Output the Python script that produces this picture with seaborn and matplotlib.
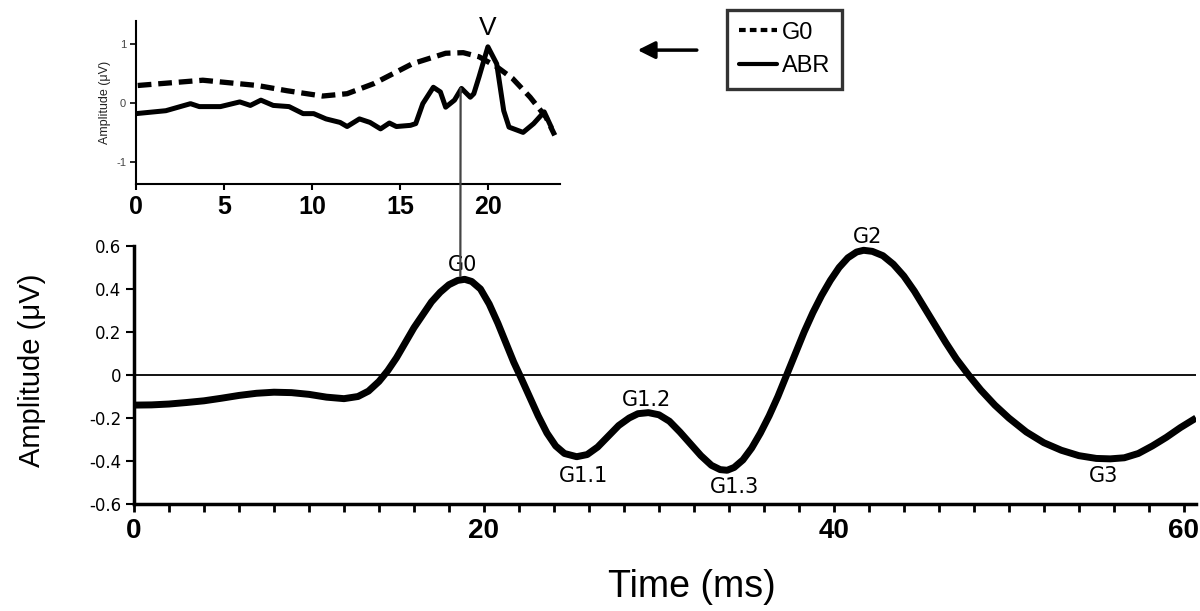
import numpy as np
import pandas as pd
import matplotlib
matplotlib.use("Agg")
import matplotlib.pyplot as plt
import seaborn as sns
from matplotlib.lines import Line2D
from matplotlib.patches import ConnectionPatch, FancyArrowPatch

# main waveform (time in ms, amplitude in uV)
t_main = [0, 1, 2, 3, 4, 5, 6, 7, 8, 9,
          10, 11, 12, 12.8, 13.4, 14, 14.5, 15, 15.5, 16,
          16.5, 17, 17.5, 18, 18.5, 18.9, 19.3, 19.8, 20.3, 20.8,
          21.3, 21.7, 22.1, 22.6, 23.1, 23.6, 24.1, 24.6, 25.3, 25.9,
          26.5, 27.1, 27.7, 28.3, 28.8, 29.4, 30, 30.6, 31.2, 31.8,
          32.4, 33, 33.5, 33.9, 34.3, 34.8, 35.3, 35.8, 36.3, 36.8,
          37.3, 37.8, 38.3, 38.8, 39.3, 39.8, 40.3, 40.8, 41.3, 41.7,
          42.2, 42.8, 43.4, 44, 44.6, 45.2, 45.8, 46.4, 47, 47.7,
          48.4, 49.2, 50, 51, 52, 53, 54, 55, 55.8, 56.6,
          57.4, 58.2, 59, 59.8, 60.7]
a_main = [-0.14, -0.139, -0.135, -0.128, -0.12, -0.108, -0.095, -0.085, -0.08, -0.082,
          -0.09, -0.103, -0.11, -0.1, -0.075, -0.03, 0.02, 0.08, 0.15, 0.22,
          0.28, 0.34, 0.385, 0.42, 0.44, 0.445, 0.435, 0.40, 0.33, 0.24,
          0.14, 0.06, -0.01, -0.1, -0.19, -0.27, -0.33, -0.365, -0.38, -0.37,
          -0.335, -0.285, -0.235, -0.2, -0.18, -0.175, -0.185, -0.215, -0.265, -0.32,
          -0.375, -0.42, -0.44, -0.443, -0.43, -0.395, -0.34, -0.27, -0.19, -0.1,
          0.0, 0.1, 0.2, 0.29, 0.37, 0.44, 0.5, 0.545, 0.572, 0.58,
          0.575, 0.555, 0.515, 0.46, 0.39, 0.31, 0.23, 0.15, 0.075, 0.0,
          -0.07, -0.14, -0.2, -0.265, -0.315, -0.35, -0.375, -0.388, -0.39, -0.385,
          -0.365, -0.33, -0.29, -0.245, -0.2]

# peak labels
peak_names = ["G0", "G1.1", "G1.2", "G1.3", "G2", "G3"]
peak_t = [18.8, 25.7, 29.3, 34.3, 41.9, 55.4]
peak_a = [0.51, -0.47, -0.115, -0.52, 0.64, -0.47]

# inset: G0 component (dashed) and raw ABR (solid)
t_g0 = [0.1, 3.8, 6.9, 8.6, 10.6, 12.0, 13.5, 15.7, 17.6, 18.6,
        19.5, 20.5, 21.4, 22.4, 23.3, 23.8]
a_g0 = [0.30, 0.39, 0.30, 0.21, 0.12, 0.16, 0.33, 0.67, 0.85, 0.86,
        0.79, 0.62, 0.42, 0.10, -0.24, -0.55]

t_abr = [0, 1.7, 3.1, 3.6, 4.8, 5.9, 6.5, 7.1, 7.8, 8.7,
         9.5, 10.1, 10.8, 11.6, 12.0, 12.7, 13.3, 13.9, 14.4, 14.8,
         15.6, 15.9, 16.3, 16.9, 17.3, 17.6, 18.1, 18.5, 19.0, 19.2,
         19.5, 20.0, 20.5, 20.9, 21.2, 22.0, 22.6, 23.2, 23.6]
a_abr = [-0.18, -0.13, -0.01, -0.06, -0.06, 0.02, -0.04, 0.05, -0.04, -0.06,
         -0.18, -0.18, -0.27, -0.33, -0.40, -0.27, -0.33, -0.44, -0.34, -0.40,
         -0.38, -0.35, -0.01, 0.27, 0.19, -0.07, 0.05, 0.25, 0.10, 0.16,
         0.45, 0.96, 0.67, -0.13, -0.41, -0.50, -0.35, -0.15, -0.41]

main_yticks = [-0.6, -0.4, -0.2, 0, 0.2, 0.4, 0.6]
main_yticklabels = ["-0.6", "-0.4", "-0.2", "0", "0.2", "0.4", "0.6"]
main_xticks = [0, 20, 40, 60]
inset_xticks = [0, 5, 10, 15, 20]
inset_yticks = [-1, 0, 1]

sns.set_style("ticks")
plt.rcParams['font.family'] = ['Liberation Sans', 'DejaVu Sans']
plt.rcParams['axes.unicode_minus'] = False
for key in ["text.color", "axes.labelcolor", "xtick.color", "ytick.color", "axes.edgecolor"]:
    plt.rcParams[key] = "black"

fig = plt.figure(figsize=(12, 6.11), dpi=100)
ax = fig.add_axes([0.1117, 0.1751, 0.8850, 0.4223])
ax_in = fig.add_axes([0.1133, 0.6989, 0.3534, 0.2667])

# ---- main panel
df_main = pd.DataFrame({"Time": t_main, "Amplitude": a_main})
sns.lineplot(data=df_main, x="Time", y="Amplitude", ax=ax, color="black",
             lw=5, solid_joinstyle="round", solid_capstyle="butt")
ax.axhline(0, color="black", lw=1.3)
ax.set_xlim(0, 60.7)
ax.set_ylim(-0.6, 0.6)
sns.despine(ax=ax)
ax.spines["left"].set_linewidth(2.5)
ax.spines["bottom"].set_linewidth(2.5)
ax.set_xticks(main_xticks)
ax.set_xticks(np.arange(0, 61, 2), minor=True)
ax.tick_params(axis="x", which="both", direction="out", length=6, width=2, pad=4)
ax.tick_params(axis="y", direction="out", length=6, width=1.5, pad=3)
ax.set_xticklabels([str(v) for v in main_xticks], fontsize=20, fontweight="bold")
ax.set_yticks(main_yticks)
ax.set_yticklabels(main_yticklabels, fontsize=12, family="DejaVu Sans")
ax.set_xlabel("Time (ms)", fontsize=27)
ax.set_ylabel("Amplitude (μV)", fontsize=21)
ax.xaxis.set_label_coords(0.525, -0.25)
ax.yaxis.set_label_coords(-0.083, 0.52)

for name, tx, ty in zip(peak_names, peak_t, peak_a):
    ax.text(tx, ty, name, ha="center", va="center", fontsize=15, family="DejaVu Sans")

# ---- inset panel
sns.lineplot(x=t_g0, y=a_g0, ax=ax_in, color="black", lw=3.8, label="G0")
ax_in.lines[-1].set_dashes([2.6, 1.3])
sns.lineplot(x=t_abr, y=a_abr, ax=ax_in, color="black", lw=3.6, label="ABR",
             solid_joinstyle="round")
ax_in.set_xlim(0, 24.1)
ax_in.set_ylim(-1.38, 1.4)
sns.despine(ax=ax_in)
ax_in.spines["left"].set_linewidth(1.5)
ax_in.spines["bottom"].set_linewidth(1.5)
ax_in.tick_params(axis="x", direction="out", length=4, width=1.5, pad=4)
ax_in.tick_params(axis="y", direction="out", length=4, width=1.2, pad=3)
ax_in.set_xticks(inset_xticks)
ax_in.set_xticklabels([str(v) for v in inset_xticks], fontsize=18, fontweight="bold")
ax_in.set_yticks(inset_yticks)
ax_in.set_yticklabels([str(v) for v in inset_yticks], fontsize=8, color="#444444")
ax_in.set_ylabel("Amplitude (μV)", fontsize=9, color="#222222", labelpad=4)
ax_in.set_xlabel("")
ax_in.text(20.0, 1.08, "V", ha="center", va="bottom", fontsize=19)

handles = [Line2D([], [], color="black", lw=3, dashes=[1.6, 1.0]),
           Line2D([], [], color="black", lw=3)]
leg = ax_in.legend(handles, ["G0", "ABR"], loc="upper left",
                   bbox_to_anchor=(0.606, 0.984), bbox_transform=fig.transFigure,
                   fontsize=17, frameon=True, fancybox=False, handlelength=1.6,
                   handletextpad=0.2, borderpad=0.5, labelspacing=0.5,
                   borderaxespad=0)
leg.get_frame().set_edgecolor("black")
leg.get_frame().set_linewidth(2.4)

# arrow pointing to the inset
fig.add_artist(FancyArrowPatch(
    (0.583, 0.918), (0.529, 0.918), transform=fig.transFigure,
    arrowstyle="-|>", mutation_scale=26, lw=2.5, color="black"))

# connector from the inset wave to the G0 peak
con = ConnectionPatch(xyA=(18.45, 0.25), coordsA=ax_in.transData,
                      xyB=(18.65, 0.46), coordsB=ax.transData,
                      color="#444444", lw=1.6)
fig.add_artist(con)

fig.savefig("out.png", dpi=100)
